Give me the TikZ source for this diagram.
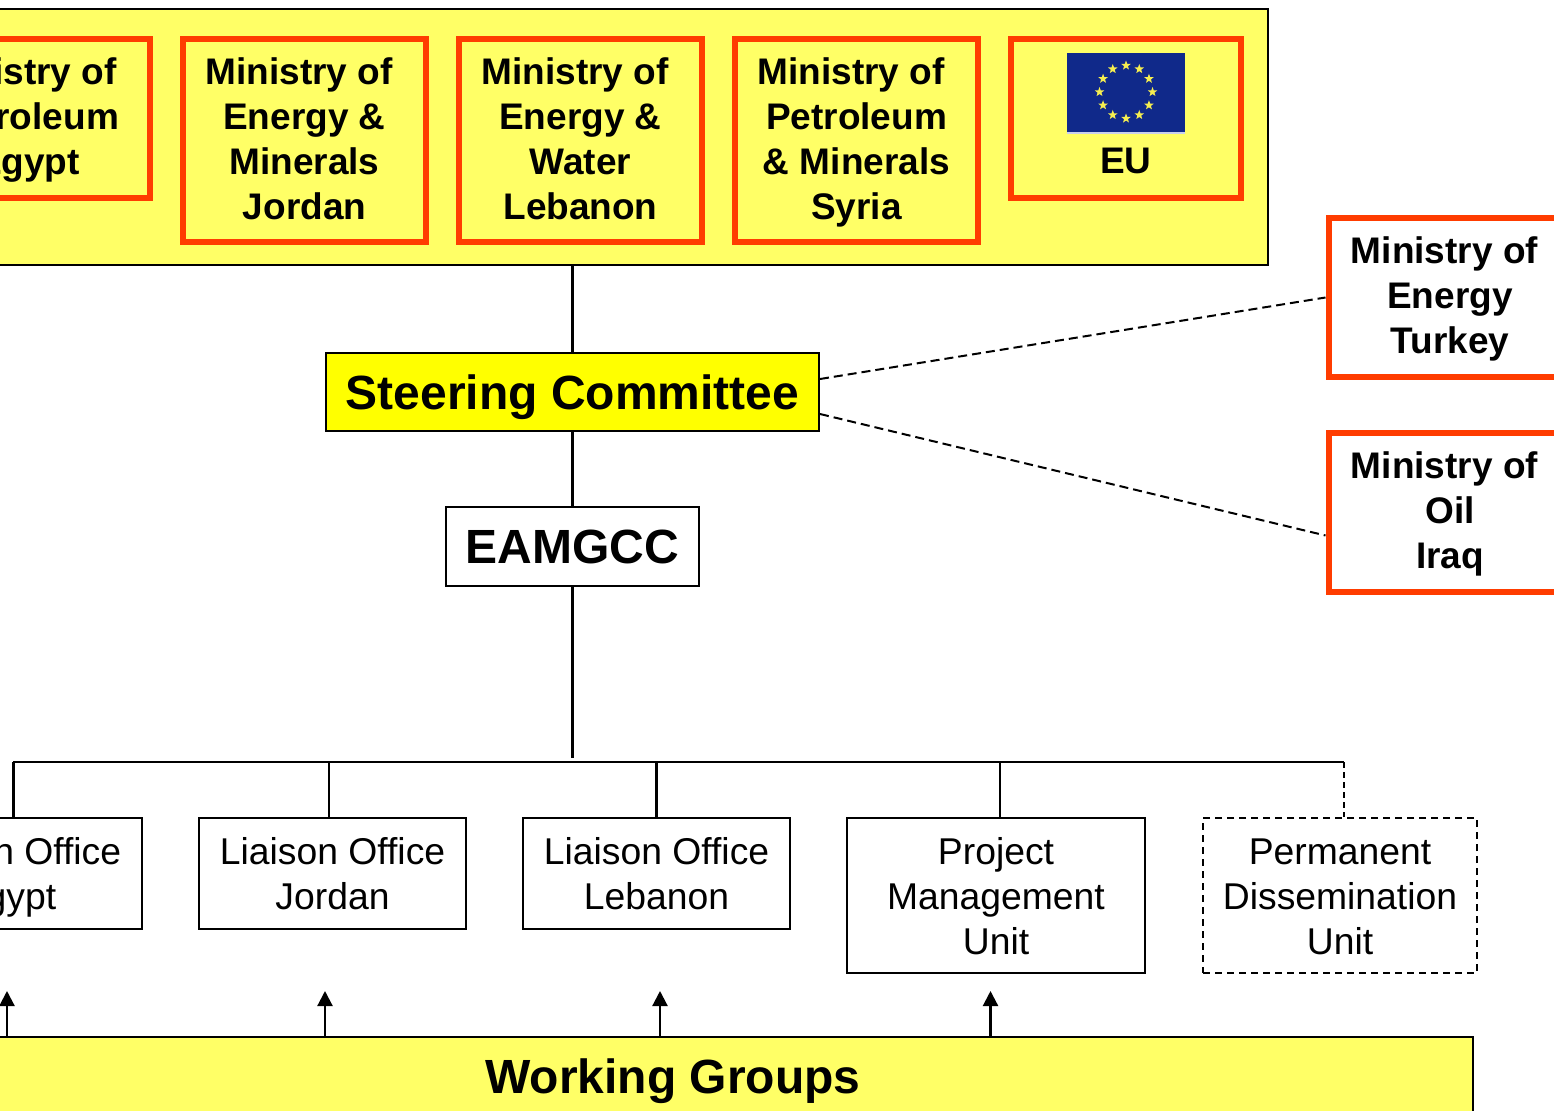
\documentclass[tikz,border=0pt]{standalone}
\usepackage{fontspec}
\setmainfont{Liberation Sans}
\usetikzlibrary{shapes.geometric,arrows.meta}
\definecolor{paleY}{HTML}{FFFF66}
\definecolor{pureY}{HTML}{FFFF00}
\definecolor{redB}{HTML}{FF3C00}
\definecolor{flagB}{HTML}{10298A}
\definecolor{flagE}{HTML}{C8D0EE}
\definecolor{starY}{HTML}{F6EE50}
\newcommand{\mstrut}{\rule[-10pt]{0pt}{42.5pt}}
\newcommand{\pstrut}{\rule[-9pt]{0pt}{45pt}}
\newcommand{\tstrut}{\rule[-15pt]{0pt}{64pt}}
\tikzset{
  x=1pt,y=-1pt,
  ministry/.style={draw=redB,line width=6pt,fill=paleY,inner sep=0pt,align=center,
    font=\fontsize{37}{45}\selectfont\bfseries,minimum width=243pt},
  plainbox/.style={draw=black,line width=2pt,fill=white,inner sep=0pt,align=center,
    font=\fontsize{37.3}{45}\selectfont,minimum width=267pt,minimum height=111pt},
  titletext/.style={font=\fontsize{48}{54}\selectfont\bfseries,inner sep=0pt,
    execute at begin node=\tstrut},
  link/.style={draw=black,line width=2.4pt},
  thinlink/.style={draw=black,line width=1.8pt},
  dashlink/.style={draw=black,line width=2pt,dash pattern=on 9pt off 5pt},
  uparrow/.style={draw=black,line width=2.2pt,-{Triangle[width=15pt,length=15pt]}},
  flagstar/.style={star,star points=5,star point ratio=2.4,fill=starY,inner sep=0pt,minimum size=10pt},
}
\newcommand{\mlead}{\hspace*{11pt}}
\begin{document}
\begin{tikzpicture}
\useasboundingbox (0,0) rectangle (1554,1110);
\clip (0,0) rectangle (1554,1110);
% top band
\node[draw=black,line width=2pt,fill=paleY,minimum width=1395pt,minimum height=256pt,inner sep=0pt] (band) at (570.5,137) {};
% bottom band
\node[draw=black,line width=2pt,fill=paleY,minimum width=1600pt,minimum height=150pt,inner sep=0pt,
  anchor=north east] (wgbox) at (1473.5,1035.5) {};
\node[titletext] (wg) at (673,1076) {Working Groups};
% ministries
\node[ministry,minimum height=159pt] (megy) at (28.5,118.5) {\mstrut Ministry of\mlead\\Petroleum\\Egypt\mstrut};
\node[ministry,minimum height=203pt] (mjor) at (304.5,140.5) {\mstrut Ministry of\mlead\\Energy \&\\Minerals\\Jordan\mstrut};
\node[ministry,minimum height=203pt] (mleb) at (580.5,140.5) {\mstrut Ministry of\mlead\\Energy \&\\Water\\Lebanon\mstrut};
\node[ministry,minimum height=203pt] (msyr) at (856.5,140.5) {\mstrut Ministry of\mlead\\Petroleum\\\& Minerals\\Syria\mstrut};
\node[ministry,minimum height=159pt,minimum width=230pt] (meu) at (1126,118.5) {};
\node[fill=flagB,minimum width=118pt,minimum height=80pt,inner sep=0pt] (flag) at (1126,93) {};
\draw[flagE,line width=1.5pt] (flag.south west) -- (flag.south east);
\foreach \i in {1,...,12}{
  \node[flagstar] (star\i) at ({1126+26.5*cos(30*\i)},{92-26.5*sin(30*\i)}) {};
}
\node[font=\fontsize{37}{45}\selectfont\bfseries,inner sep=0pt] (eulabel) at (1126,161) {EU};
\node[ministry,fill=white,minimum height=159pt] (mtur) at (1450,297.5) {\mstrut Ministry of\mlead\\Energy\\Turkey\mstrut};
\node[ministry,fill=white,minimum height=159pt] (mirq) at (1450,512.5) {\mstrut Ministry of\mlead\\Oil\\Iraq\mstrut};
% centre column
\node[draw=black,line width=2pt,fill=pureY,minimum width=493pt,minimum height=78pt,titletext] (steer) at (572.5,392) {Steering Committee};
\node[draw=black,line width=2pt,fill=white,minimum width=253pt,minimum height=79pt,titletext] (eam) at (572.5,546.5) {EAMGCC};
% lower row
\node[plainbox] (legy) at (8.5,873.5) {\pstrut Liaison Office\\Egypt\pstrut};
\node[plainbox] (ljor) at (332.5,873.5) {\pstrut Liaison Office\\Jordan\pstrut};
\node[plainbox] (lleb) at (656.5,873.5) {\pstrut Liaison Office\\Lebanon\pstrut};
\node[plainbox,minimum width=298pt,minimum height=155pt] (pmu) at (996,895.5) {\pstrut Project\\Management\\Unit\pstrut};
\node[plainbox,minimum width=274pt,minimum height=155pt,dash pattern=on 7pt off 5pt] (pdu) at (1340,895.5) {\pstrut Permanent\\Dissemination\\Unit\pstrut};
% connectors
\coordinate (busL) at (13,762);
\coordinate (busR) at (1344,762);
\coordinate (busJ) at (572.5,758);
\draw[link] (band.south -| steer.north) -- (steer.north);
\draw[link] (steer.south) -- (eam.north);
\draw[link,line width=2.8pt] (eam.south) -- (busJ);
\draw[thinlink,line width=2.2pt] (busL) -- (busR);
\draw[link,line width=3pt] (busL) -- (busL |- legy.north);
\coordinate (dropJ) at (329,762);
\coordinate (dropL) at (656.5,762);
\coordinate (dropP) at (1000,762);
\draw[thinlink] (dropJ) -- (dropJ |- ljor.north);
\draw[link] (dropL) -- (dropL |- lleb.north);
\draw[link] (dropP) -- (dropP |- pmu.north);
\draw[dashlink,dash pattern=on 6pt off 4pt] (busR) -- (busR |- pdu.north);
\draw[dashlink] ([yshift=13pt]steer.east) -- (mtur.west);
\draw[dashlink] ([yshift=-22pt]steer.east) -- ([yshift=-23pt]mirq.west);
\coordinate (tip1) at (7,991);
\coordinate (tip2) at (325,991);
\coordinate (tip3) at (660,991);
\coordinate (tip4) at (990.5,991);
\foreach \t in {tip1,tip2,tip3,tip4}{
  \draw[uparrow] (\t |- wgbox.north) -- (\t);
}
\end{tikzpicture}
\end{document}
